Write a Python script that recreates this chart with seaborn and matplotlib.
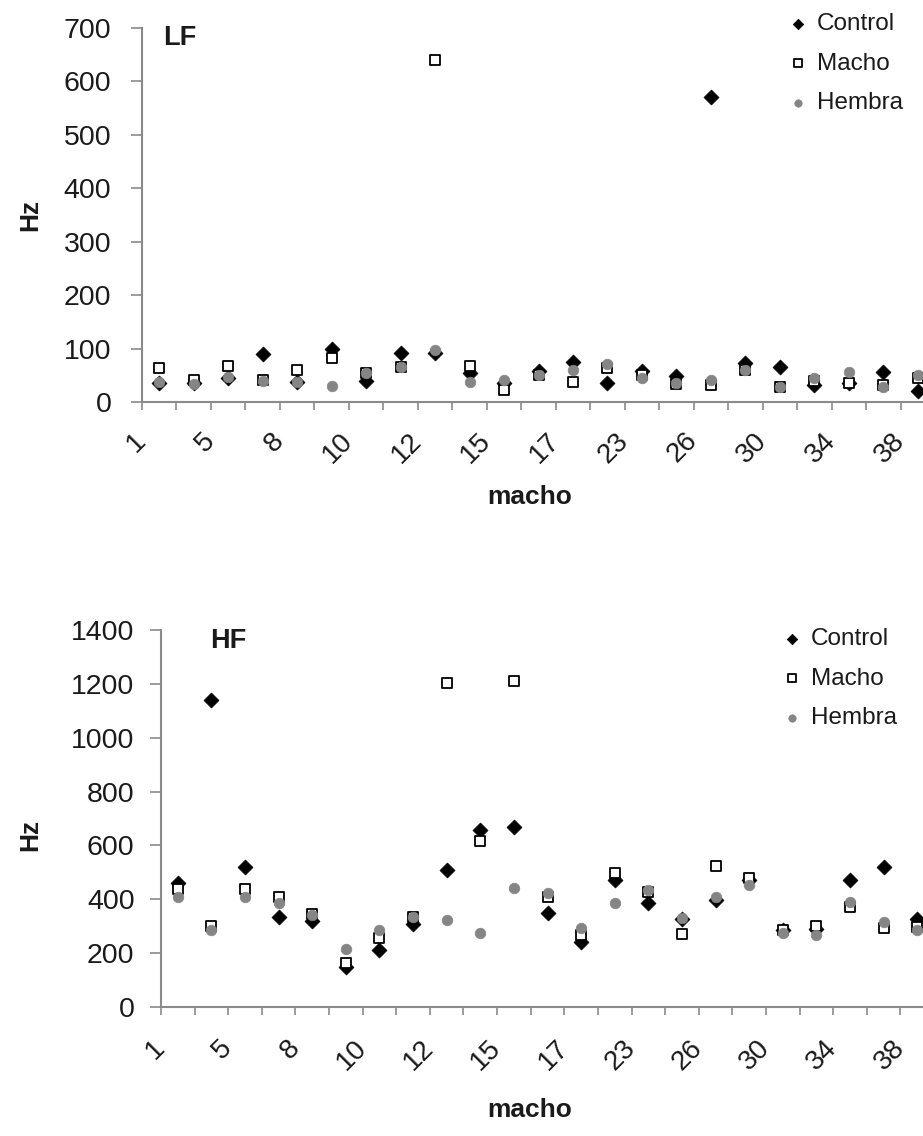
import numpy as np
import pandas as pd
import matplotlib
matplotlib.use("Agg")
import matplotlib.pyplot as plt
import seaborn as sns

# ---------------- data ----------------
machos = ["1", "3", "5", "7", "8", "9", "10", "11", "12", "14", "15", "16",
          "17", "21", "23", "25", "26", "28", "30", "32", "34", "36", "38"]
tick_labels = ["1", "5", "8", "10", "12", "15", "17", "23", "26", "30", "34", "38"]

lf_control = [35, 35, 45, 90, 37, 100, 40, 91, 91, 54, 35, 58, 75, 35, 58, 49, 570, 73, 66, 32, 35, 56, 21]
lf_macho   = [64, 42, 67, 42, 60, 82, 55, 66, 640, 67, 22, 50, 37, 64, 50, 33, 32, 60, 28, 40, 35, 32, 45]
lf_hembra  = [37, 33, 47, 40, 37, 30, 54, 66, 97, 37, 41, 50, 60, 72, 45, 35, 41, 60, 28, 45, 56, 28, 50]

hf_control = [460, 1140, 520, 335, 320, 150, 210, 310, 509, 657, 668, 349, 241, 472, 386, 325, 397, 471, 285, 290, 471, 520, 327]
hf_macho   = [440, 300, 440, 410, 345, 165, 255, 335, 1205, 616, 1210, 409, 267, 497, 427, 271, 523, 478, 286, 300, 371, 293, 297]
hf_hembra  = [410, 286, 410, 385, 340, 215, 285, 335, 323, 275, 442, 423, 293, 386, 434, 330, 408, 453, 275, 268, 390, 316, 286]

series_names = ["Control", "Macho", "Hembra"]

# ---------------- style ----------------
sns.set_theme(style="white")
plt.rcParams["font.family"] = ["Liberation Sans", "DejaVu Sans"]
TXT = "#1a1a1a"
SPINE = "#8a8a8a"

fig = plt.figure(figsize=(9.23, 11.36), dpi=100)
W, H = 923, 1136


def add_axes(left_px, right_px, top_px, bottom_px):
    return fig.add_axes([left_px / W, 1 - bottom_px / H,
                         (right_px - left_px) / W, (bottom_px - top_px) / H])


styles = {
    "Control": dict(marker="D", color="black", edgecolor="black", s=58, linewidth=0.5),
    "Macho": dict(marker="s", color="white", edgecolor="black", s=62, linewidth=1.3),
    "Hembra": dict(marker="o", color="#858585", edgecolor="#858585", s=58, linewidth=0.5),
}


def draw_panel(ax, values, ymax, ystep, title, title_xy, xlabel_xy, ylabel_xy,
               legend_xy, ypad, xpad):
    for name, vals in zip(series_names, values):
        df = pd.DataFrame({"macho": machos, "Hz": vals})
        sns.scatterplot(data=df, x="macho", y="Hz", ax=ax, label=name, zorder=3,
                        **styles[name])
    n = len(machos)
    ax.set_xlim(-0.5, n - 0.5)
    ax.set_ylim(0, ymax)
    yt = np.arange(0, ymax + 1, ystep)
    ax.set_yticks(yt)
    ax.set_yticklabels([str(int(v)) for v in yt], fontsize=20.5, color=TXT)
    pos = [i - 0.5 for i in range(n)]
    labs = [machos[i] if i % 2 == 0 else "" for i in range(n)]
    ax.set_xticks(pos)
    ax.set_xticklabels(labs, rotation=45, ha="right", va="center",
                       rotation_mode="anchor", fontsize=20, color=TXT)
    ax.tick_params(axis="x", direction="out", length=6, width=1.2, color=SPINE,
                   pad=xpad, bottom=True)
    ax.tick_params(axis="y", direction="out", length=8, width=1.2, color=SPINE,
                   pad=ypad, left=True)
    for side in ["top", "right"]:
        ax.spines[side].set_visible(False)
    for side in ["left", "bottom"]:
        ax.spines[side].set_color(SPINE)
        ax.spines[side].set_linewidth(1.5)
    ax.grid(False)
    ax.set_xlabel("macho", fontsize=19, fontweight="bold", color=TXT, va="center")
    ax.xaxis.set_label_coords(*xlabel_xy)
    ax.set_ylabel("Hz", fontsize=19, fontweight="bold", color=TXT, va="center")
    ax.yaxis.set_label_coords(*ylabel_xy)
    ax.text(title_xy[0], title_xy[1], title, transform=ax.transAxes, fontsize=19.5,
            fontweight="bold", color=TXT, ha="left", va="center")
    leg = ax.legend(loc="upper left", bbox_to_anchor=legend_xy,
                    bbox_transform=fig.transFigure, frameon=False, fontsize=17.5,
                    handlelength=0.6, handletextpad=0.45, labelspacing=0.72,
                    markerscale=0.7, borderaxespad=0, borderpad=0)
    for t in leg.get_texts():
        t.set_color(TXT)


ax1 = add_axes(142, 935, 28, 402)
draw_panel(ax1, [lf_control, lf_macho, lf_hembra], 700, 100, "LF",
           (0.027, 0.973), (0.489, -0.254), (-0.141, 0.5),
           (791 / W, 1 - 13 / H), ypad=14, xpad=19)

ax2 = add_axes(161, 934, 630, 1007)
draw_panel(ax2, [hf_control, hf_macho, hf_hembra], 1400, 200, "HF",
           (0.063, 0.971), (0.477, -0.273), (-0.169, 0.456),
           (785 / W, 1 - 628 / H), ypad=11, xpad=21)

fig.savefig("out.png", dpi=100)
